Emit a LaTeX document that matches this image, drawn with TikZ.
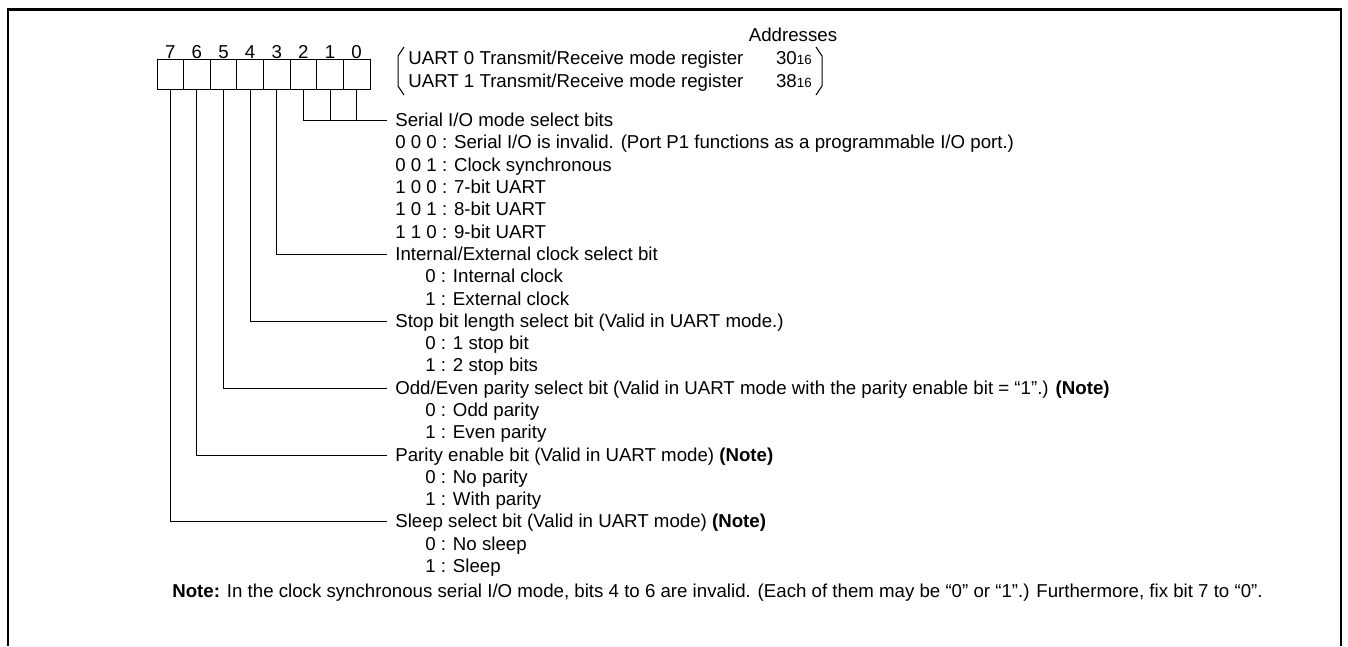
\documentclass[tikz,border=0pt]{standalone}
\usepackage{fontspec}
\setmainfont{Liberation Sans}
\begin{document}
\begin{tikzpicture}[
    x=0.6pt,
    y=-0.6pt,
    font=\fontsize{11.2}{13}\selectfont,
    txt/.style={anchor=west, inner sep=0pt, text height=8pt, text depth=0pt},
    cell/.style={draw, line width=0.6pt, minimum width=15.975pt, minimum height=18pt, inner sep=0pt},
    wire/.style={line width=0.6pt, shorten >=4.8pt}
]
\useasboundingbox (0,0) rectangle (1348,646);

% Frame
\draw[line width=1.5pt] (8,646) -- (8,9.5) -- (1341,9.5) -- (1341,646);

% Register cells and bit numbers
\foreach \b in {0,...,7} {
    \node[cell] (c\b) at ({157+26.625*(7.5-\b)},74) {};
    \node[inner sep=0pt] (n\b) at ({157+26.625*(7.5-\b)},52) {\b};
}

% Addresses
\node (addr) at (793,35) {Addresses};
\node[txt] (u0) at (408,58) {UART 0 Transmit/Receive mode register};
\node[txt] (u1) at (408,81) {UART 1 Transmit/Receive mode register};
\node[txt, anchor=east] (a0) at (812,58) {30{\footnotesize 16}};
\node[txt, anchor=east] (a1) at (812,81) {38{\footnotesize 16}};
\draw[line width=0.6pt] (404,47) -- (398,56) -- (398,86) -- (404,95);
\draw[line width=0.6pt] (816,47) -- (822,56) -- (822,86) -- (816,95);

% Bit descriptions: y, bit, heading
\foreach \y/\b/\head in {
    120/2/{Serial I/O mode select bits},
    254/3/{Internal/External clock select bit},
    321/4/{Stop bit length select bit (Valid in UART mode.)},
    388/5/{Odd/Even parity select bit (Valid in UART mode with the parity enable bit = “1”.) \textbf{(Note)}},
    455/6/{Parity enable bit (Valid in UART mode) \textbf{(Note)}},
    521/7/{Sleep select bit (Valid in UART mode) \textbf{(Note)}}
} {
    \node[txt] (l\b) at (395,\y) {\head};
    \draw[wire] (c\b.south) |- (l\b.west);
}
\draw[line width=0.6pt] (c1.south) -- (c1.south |- l2.west);
\draw[line width=0.6pt] (c0.south) -- (c0.south |- l2.west);

% Values
\foreach \y/\x/\val in {
    142.3/395/{0 0 0 : Serial I/O is invalid. (Port P1 functions as a programmable I/O port.)},
    164.6/395/{0 0 1 : Clock synchronous},
    186.9/395/{1 0 0 : 7-bit UART},
    209.2/395/{1 0 1 : 8-bit UART},
    231.5/395/{1 1 0 : 9-bit UART},
    276.1/425/{0 : Internal clock},
    298.4/425/{1 : External clock},
    343/425/{0 : 1 stop bit},
    365.3/425/{1 : 2 stop bits},
    409.9/425/{0 : Odd parity},
    432.2/425/{1 : Even parity},
    476.8/425/{0 : No parity},
    499.1/425/{1 : With parity},
    543.7/425/{0 : No sleep},
    566/425/{1 : Sleep}
} {
    \node[txt] at (\x,\y) {\val};
}

% Note
\node[txt] (note) at (172,591) {\textbf{Note:} In the clock synchronous serial I/O mode, bits 4 to 6 are invalid. (Each of them may be “0” or “1”.) Furthermore, fix bit 7 to “0”.};

\end{tikzpicture}
\end{document}
